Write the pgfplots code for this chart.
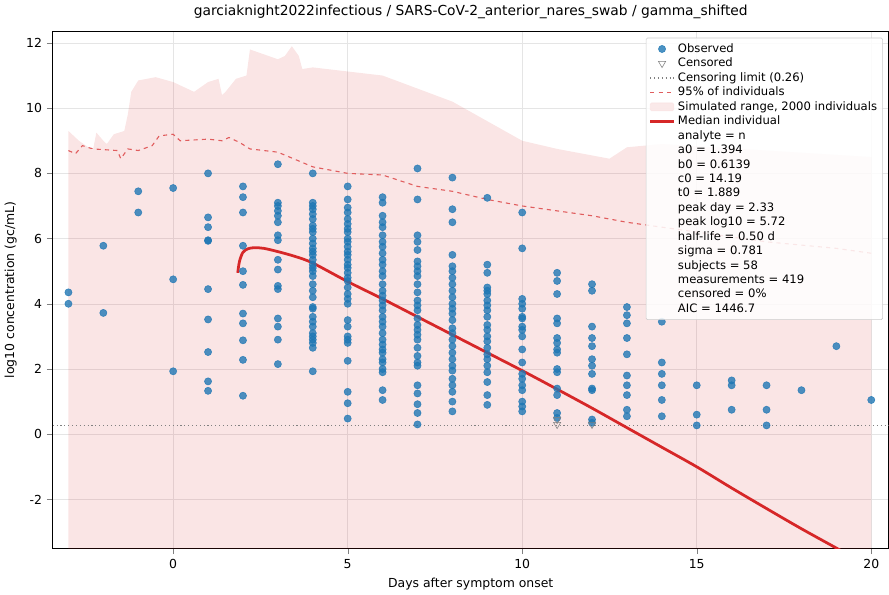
\documentclass[border=0pt]{standalone}
\usepackage{pgfplots}
\pgfplotsset{compat=1.18}
\usepackage{fontspec}
\setmainfont{DejaVu Sans}
\definecolor{tabblue}{HTML}{1F77B4}
\definecolor{tabred}{HTML}{D62728}
\begin{document}
\begin{tikzpicture}
\begin{axis}[
  scale only axis, width=605pt, height=374pt,
  xmin=-3.45, xmax=20.5, ymin=-3.5, ymax=12.35,
  xtick={0,5,10,15,20}, ytick={-2,0,2,4,6,8,10,12},
  tick align=outside, xtick pos=bottom, ytick pos=left,
  grid=major, grid style={gray!20},
  tick label style={font=\small}, /pgf/number format/assume math mode=true,
  xlabel={Days after symptom onset}, ylabel={log10 concentration (gc/mL)},
  label style={font=\small},
  title={garciaknight2022infectious / SARS-CoV-2\_anterior\_nares\_swab / gamma\_shifted},
  title style={font=\normalsize},
  legend style={at={(rel axis cs:0.993,0.988)}, anchor=north east, font=\fontsize{8.4}{10}\selectfont,
    draw=gray!40, rounded corners=1pt, fill=white, fill opacity=0.85, text opacity=1,
    row sep=-1.4pt, inner sep=2pt},
  legend cell align=left,
]
\addlegendimage{only marks, mark=*, mark size=2.6pt, color=tabblue, opacity=0.8}
\addlegendentry{Observed}
\addlegendimage{only marks, mark=triangle, mark options={rotate=180}, mark size=3pt, color=gray}
\addlegendentry{Censored}
\addlegendimage{gray, dotted, thick}
\addlegendentry{Censoring limit (0.26)}
\addlegendimage{tabred!75, dashed, thick}
\addlegendentry{95\% of individuals}
\addlegendimage{area legend, fill=tabred!12, draw=tabred!12}
\addlegendentry{Simulated range, 2000 individuals}
\addlegendimage{tabred, line width=2pt}
\addlegendentry{Median individual}
\addlegendimage{empty legend}\addlegendentry{analyte = n}
\addlegendimage{empty legend}\addlegendentry{a0 = 1.394}
\addlegendimage{empty legend}\addlegendentry{b0 = 0.6139}
\addlegendimage{empty legend}\addlegendentry{c0 = 14.19}
\addlegendimage{empty legend}\addlegendentry{t0 = 1.889}
\addlegendimage{empty legend}\addlegendentry{peak day = 2.33}
\addlegendimage{empty legend}\addlegendentry{peak log10 = 5.72}
\addlegendimage{empty legend}\addlegendentry{half-life = 0.50 d}
\addlegendimage{empty legend}\addlegendentry{sigma = 0.781}
\addlegendimage{empty legend}\addlegendentry{subjects = 58}
\addlegendimage{empty legend}\addlegendentry{measurements = 419}
\addlegendimage{empty legend}\addlegendentry{censored = 0\%}
\addlegendimage{empty legend}\addlegendentry{AIC = 1446.7}
% simulated range
\addplot[fill=tabred, fill opacity=0.12, draw=none, forget plot] coordinates {
(-3,-3.6)(-3,9.3)(-2.7,9.0)(-2.3,8.7)(-2.2,9.25)(-2.0,9.0)(-1.9,8.9)(-1.7,9.2)(-1.4,9.3)(-1.3,9.8)(-1.2,10.5)(-1.0,10.85)(-0.5,10.95)(0,10.8)(0.6,10.5)(1.0,10.8)(1.3,10.9)(1.4,10.4)(1.5,10.5)(1.8,10.9)(2.1,11.0)(2.2,11.8)(3.0,11.5)(3.2,11.6)(3.4,11.9)(3.6,11.6)(3.7,11.2)(4,11.25)(6,11.0)(8,10.2)(10,9.0)(11,8.75)(12,8.55)(12.5,8.45)(13,8.8)(14,8.9)(17,8.7)(20,8.5)(20,-3.6)} -- cycle;
% 95% line
\addplot[tabred!75, dashed, thick, forget plot] coordinates {
(-3,8.7)(-2.8,8.6)(-2.6,8.85)(-2.3,8.75)(-1.6,8.7)(-1.5,8.45)(-1.3,8.75)(-1,8.7)(-0.6,8.85)(-0.4,9.15)(0,9.2)(0.2,9.0)(1,9.05)(1.4,9.0)(1.6,9.1)(1.9,8.95)(2.2,8.75)(3,8.65)(4,8.2)(5,8.0)(6,7.95)(7,7.6)(8,7.45)(9,7.2)(10,7.0)(11,6.85)(12,6.7)(13,6.5)(14,6.35)(15,6.2)(16,6.05)(17,5.9)(18,5.8)(19,5.7)(20,5.55)};
% censoring limit
\addplot[gray, dotted, thick, forget plot] coordinates {(-3.45,0.26)(20.5,0.26)};
% observed
\addplot[only marks, mark=*, mark size=2.6pt, color=tabblue, opacity=0.8, forget plot] table {
x y
-3 4.35
-3 4.0
-2 5.78
-2 3.72
-1 7.45
-1 6.8
0 7.55
0 4.75
0 1.93
1 8.0
1 6.65
1 6.35
1 5.95
1 5.93
1 4.45
1 3.52
1 2.52
1 1.62
1 1.33
2 7.6
2 7.27
2 6.8
2 5.78
2 5.0
2 4.58
2 3.7
2 3.4
2 2.88
2 2.28
2 1.18
3 8.28
3 7.1
3 7.0
3 6.85
3 6.7
3 6.5
3 6.1
3 5.95
3 5.35
3 5.05
3 4.55
3 4.45
3 3.55
3 3.3
3 2.9
3 2.15
4 8.0
4 7.1
4 7.0
4 6.9
4 6.75
4 6.6
4 6.4
4 6.3
4 6.2
4 6.0
4 5.85
4 5.7
4 5.6
4 5.5
4 5.35
4 5.2
4 5.1
4 5.0
4 4.85
4 4.6
4 4.4
4 4.2
4 3.9
4 3.85
4 3.6
4 3.45
4 3.3
4 3.1
4 3.0
4 2.9
4 2.8
4 2.65
4 1.93
5 7.6
5 7.2
5 6.95
5 6.8
5 6.6
5 6.45
5 6.3
5 6.2
5 6.0
5 5.9
5 5.75
5 5.6
5 5.5
5 5.35
5 5.2
5 5.1
5 4.95
5 4.8
5 4.7
5 4.5
5 4.3
5 4.15
5 4.0
5 3.5
5 3.3
5 3.0
5 2.9
5 2.8
5 2.25
5 1.3
5 0.95
5 0.48
6 7.27
6 7.1
6 6.7
6 6.5
6 6.35
6 6.1
6 5.9
6 5.75
6 5.55
6 5.35
6 5.2
6 5.0
6 4.85
6 4.6
6 4.4
6 4.25
6 4.1
6 3.95
6 3.8
6 3.6
6 3.45
6 3.3
6 3.1
6 2.9
6 2.75
6 2.6
6 2.5
6 2.3
6 2.2
6 2.0
6 1.9
6 1.35
6 1.05
7 8.15
7 7.2
7 6.1
7 5.9
7 5.65
7 5.3
7 5.15
7 5.0
7 4.85
7 4.6
7 4.35
7 4.1
7 3.95
7 3.8
7 3.55
7 3.35
7 3.2
7 3.05
7 2.9
7 2.65
7 2.4
7 2.2
7 2.1
7 1.5
7 1.25
7 0.92
7 0.65
7 0.3
8 7.87
8 6.9
8 6.5
8 5.5
8 5.15
8 5.0
8 4.8
8 4.6
8 4.4
8 4.2
8 4.0
8 3.85
8 3.7
8 3.5
8 3.25
8 3.1
8 2.9
8 2.7
8 2.5
8 2.3
8 2.1
8 1.95
8 1.7
8 1.5
8 1.3
8 1.0
8 0.7
9 7.25
9 5.2
9 4.95
9 4.5
9 4.4
9 4.3
9 4.1
9 3.95
9 3.8
9 3.6
9 3.35
9 3.2
9 3.0
9 2.85
9 2.65
9 2.45
9 2.3
9 2.1
9 1.9
9 1.6
9 1.2
9 0.9
10 6.8
10 5.7
10 4.15
10 4.0
10 3.85
10 3.6
10 3.55
10 3.3
10 3.2
10 3.0
10 2.6
10 2.2
10 1.85
10 1.7
10 1.5
10 1.35
10 1.0
10 0.85
10 0.7
11 4.95
11 4.7
11 4.3
11 3.55
11 3.4
11 2.95
11 2.8
11 2.6
11 2.5
11 2.0
11 1.9
11 1.4
11 1.2
11 0.65
11 0.5
12 4.6
12 4.4
12 3.3
12 2.95
12 2.7
12 2.3
12 2.1
12 1.85
12 1.4
12 1.35
12 0.45
12 0.35
13 3.9
13 3.65
13 3.4
13 2.95
13 2.45
13 1.8
13 1.5
13 1.2
13 0.75
13 0.55
14 3.45
14 2.2
14 1.85
14 1.5
14 1.05
14 0.55
15 1.5
15 0.6
15 0.27
16 1.65
16 1.5
16 0.75
17 1.5
17 0.75
17 0.27
18 1.35
19 2.7
20 1.05
};
% censored
\addplot[only marks, mark=triangle, mark options={rotate=180}, mark size=3pt, color=gray, forget plot] coordinates {(11,0.3)(11,0.45)(12,0.3)};
% median
\addplot[tabred, line width=2pt, smooth, forget plot] coordinates {
(1.85,4.95)(1.9,5.3)(2.0,5.58)(2.15,5.69)(2.33,5.72)(2.6,5.7)(3,5.6)(3.5,5.45)(4,5.25)(5,4.68)(6,4.15)(7,3.6)(8,3.05)(9,2.5)(10,1.95)(11,1.38)(12,0.8)(13,0.2)(14,-0.4)(15,-1.0)(16,-1.65)(17,-2.28)(18,-2.9)(19.1,-3.55)};
\end{axis}
\end{tikzpicture}
\end{document}
